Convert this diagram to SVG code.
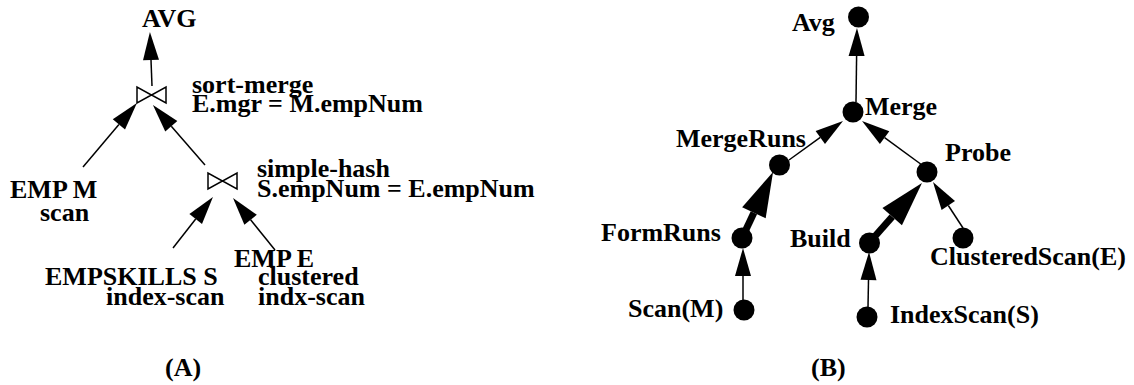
<svg xmlns="http://www.w3.org/2000/svg" width="1134" height="385" viewBox="0 0 1134 385">
<style>
text{font-family:"Liberation Serif","Times New Roman",serif;font-weight:bold;font-size:26px;fill:#000}
.ln{stroke:#000;stroke-width:1.5;fill:none}
.thin{marker-end:url(#ah)}
.thick{stroke-width:7;marker-end:url(#ahb)}
.bow{fill:#fff;stroke:#000;stroke-width:1.5;stroke-linejoin:miter}
.dot{fill:#000}
</style>
<defs>
<marker id="ah" markerUnits="userSpaceOnUse" markerWidth="30" markerHeight="18" viewBox="0 -9 30 18" refX="0" refY="0" orient="auto" overflow="visible">
<path d="M0,-8 L28,0 L0,8 z" fill="#000"/>
</marker>
<marker id="ahb" markerUnits="userSpaceOnUse" markerWidth="46" markerHeight="28" viewBox="0 -14 46 28" refX="0" refY="0" orient="auto" overflow="visible">
<path d="M0,-13 L45,0 L0,13 z" fill="#000"/>
</marker>
</defs>
<g id="connectors">
<path class="ln thin" d="M152,86 L151,60"/>
<path class="ln thin" d="M83,167 L118.9,124.4"/>
<path class="ln thin" d="M205,165 L171.3,126.2"/>
<path class="ln thin" d="M173,248 L195.7,219"/>
<path class="ln thin" d="M275,250 L250.6,219.8"/>
<path class="ln thin" d="M856,102 L856.6,56"/>
<path class="ln thin" d="M789,160 L820.3,137.4"/>
<path class="ln thin" d="M922,165 L884.6,137.6"/>
<path class="ln thick" d="M742,238 L753.9,212.7"/>
<path class="ln thin" d="M743,300 L743,276"/>
<path class="ln thick" d="M869,243 L892.2,216.7"/>
<path class="ln thin" d="M963,228 L948.3,205.5"/>
<path class="ln thin" d="M868,307 L868.5,280"/>
</g>
<g id="avgA"><text x="142" y="27">AVG</text></g>
<g id="sortmerge">
<path class="bow" d="M137,87 L137,103 L151.5,95 Z M166,87 L166,103 L151.5,95 Z"/>
<text x="192" y="93">sort-merge</text>
<text x="192" y="112">E.mgr = M.empNum</text>
</g>
<g id="simplehash">
<path class="bow" d="M208,173 L208,189 L222.5,181 Z M237,173 L237,189 L222.5,181 Z"/>
<text x="257" y="177">simple-hash</text>
<text x="257" y="197">S.empNum = E.empNum</text>
</g>
<g id="empM"><text x="10" y="198">EMP M</text><text x="40" y="221">scan</text></g>
<g id="empskills"><text x="45" y="285">EMPSKILLS S</text><text x="106" y="305">index-scan</text></g>
<g id="empE"><text x="234" y="267">EMP E</text><text x="258" y="285">clustered</text><text x="258" y="305">indx-scan</text></g>
<g id="labelA"><text x="165" y="376">(A)</text></g>
<g id="avgB"><circle class="dot" cx="858.5" cy="17" r="10.5"/><text x="792" y="31">Avg</text></g>
<g id="merge"><circle class="dot" cx="853" cy="112" r="10.5"/><text x="865" y="115">Merge</text></g>
<g id="mergeruns"><circle class="dot" cx="779.5" cy="165" r="10.5"/><text x="676" y="147">MergeRuns</text></g>
<g id="probe"><circle class="dot" cx="927" cy="172" r="10.5"/><text x="945" y="161">Probe</text></g>
<g id="formruns"><circle class="dot" cx="742" cy="238" r="10.5"/><text x="601" y="241">FormRuns</text></g>
<g id="build"><circle class="dot" cx="869.5" cy="243" r="10.5"/><text x="790" y="247">Build</text></g>
<g id="clustered"><circle class="dot" cx="963" cy="238" r="10.5"/><text x="930" y="265">ClusteredScan(E)</text></g>
<g id="scanM"><circle class="dot" cx="744" cy="310" r="10.5"/><text x="628" y="317">Scan(M)</text></g>
<g id="indexscan"><circle class="dot" cx="867" cy="317" r="10.5"/><text x="890" y="323">IndexScan(S)</text></g>
<g id="labelB"><text x="811" y="376">(B)</text></g>
</svg>
